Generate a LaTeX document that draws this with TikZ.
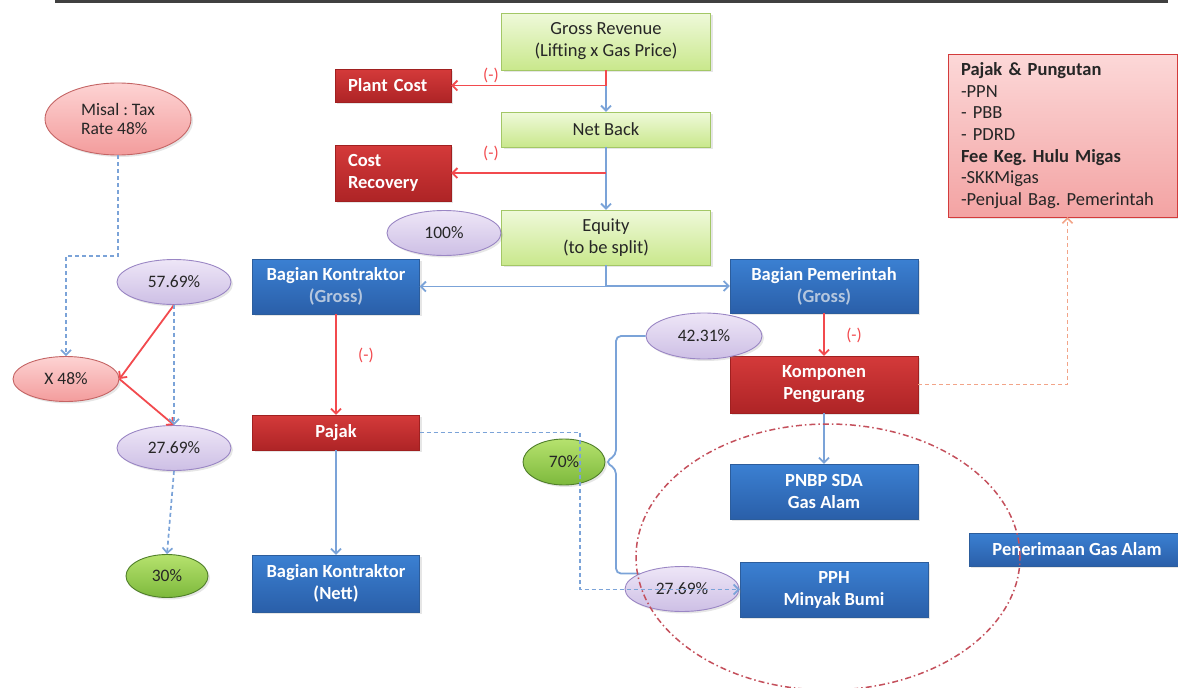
\documentclass[tikz,border=0pt]{standalone}
\usepackage{fontspec}
\setmainfont{Carlito}
\usetikzlibrary{arrows,arrows.meta}
\usetikzlibrary{calc}
\usetikzlibrary{shapes.geometric}
\usetikzlibrary{shadows}

\definecolor{lnblue}{HTML}{7BA3D8}
\definecolor{lnred}{HTML}{F24A4E}
\definecolor{lnorange}{HTML}{F2A488}
\definecolor{ringred}{HTML}{C4505C}
\definecolor{txtdark}{HTML}{262626}
\definecolor{grntop}{HTML}{EFF9DA}
\definecolor{grnbot}{HTML}{C9E88C}
\definecolor{grnedge}{HTML}{A3C766}
\definecolor{blutop}{HTML}{3B80D2}
\definecolor{blubot}{HTML}{2A5FA9}
\definecolor{bluedge}{HTML}{2C5D9C}
\definecolor{redtop}{HTML}{D43A3A}
\definecolor{redbot}{HTML}{AE2426}
\definecolor{rededge}{HTML}{A02020}
\definecolor{purtop}{HTML}{EEE6F7}
\definecolor{purbot}{HTML}{CDBFE5}
\definecolor{puredge}{HTML}{9A86C4}
\definecolor{pnktop}{HTML}{FDD3D3}
\definecolor{pnkbot}{HTML}{F39C9C}
\definecolor{pnkedge}{HTML}{C46464}
\definecolor{lgrtop}{HTML}{B6E26E}
\definecolor{lgrbot}{HTML}{7DB93C}
\definecolor{lgredge}{HTML}{4F7E2A}
\definecolor{pajtop}{HTML}{FCD8D8}
\definecolor{pajbot}{HTML}{F3A3A3}
\definecolor{pajedge}{HTML}{D33B3B}
\definecolor{grosslbl}{HTML}{B4C6DE}

\begin{document}
\frenchspacing
\begin{tikzpicture}[x=1pt,y=-1pt,font=\fontsize{18.5}{22}\selectfont,
  >={Straight Barb[length=5pt,width=10pt]},
  shade/.style={drop shadow={opacity=0.2,shadow xshift=2pt,shadow yshift=-2pt}},
  greenbox/.style={shade,draw=grnedge,top color=grntop,bottom color=grnbot,text=txtdark,
    minimum width=209,align=center,inner sep=2},
  bluebox/.style={shade,draw=bluedge,top color=blutop,bottom color=blubot,text=white,
    font=\fontsize{18.5}{22}\selectfont\bfseries,align=center,inner sep=2},
  redbox/.style={shade,draw=rededge,top color=redtop,bottom color=redbot,text=white,
    font=\fontsize{18.5}{22}\selectfont\bfseries,align=center,inner sep=2},
  oval/.style={shade,ellipse,inner sep=0,line width=0.9pt,text=txtdark,font=\fontsize{17.5}{19}\selectfont},
  purple/.style={oval,draw=puredge,top color=purtop,bottom color=purbot,
    minimum width=114,minimum height=45},
  pink/.style={oval,draw=pnkedge,top color=pnktop,bottom color=pnkbot},
  lime/.style={oval,draw=lgredge,top color=lgrtop,bottom color=lgrbot},
  blueln/.style={draw=lnblue,line width=1.8pt},
  redln/.style={draw=lnred,line width=1.8pt},
  bluedash/.style={draw=lnblue,line width=1.7pt,dash pattern=on 4pt off 3pt},
  minus/.style={text=lnred,font=\fontsize{17}{19}\selectfont}]

\useasboundingbox (0,0) rectangle (1178,688);
\draw[line width=3pt,black!75] (55,1.5) -- (1168,1.5);

\node[greenbox,minimum height=57] (gross) at (606,41.5) {Gross Revenue\\(Lifting  x Gas Price)};
\node[greenbox,minimum height=35] (netback) at (606,129.5) {Net Back};
\node[greenbox,minimum height=55] (equity) at (606,237.5) {Equity\\(to be split)};
\node[redbox,minimum height=33,text width=90,align=left,inner xsep=13] (plant) at (393,85.5) {Plant Cost};
\node[redbox,minimum height=56,text width=90,align=left,inner xsep=13] (costrec) at (393,173) {Cost\\Recovery};
\node[purple] (p100) at (444,233) {100\%};

\node[bluebox,minimum width=167,minimum height=55] (bkg) at (336,286.5) {Bagian Kontraktor\\\textcolor{grosslbl}{(Gross)}};
\node[bluebox,minimum width=188,minimum height=54] (bpg) at (824,286) {Bagian Pemerintah\\\textcolor{grosslbl}{(Gross)}};
\node[redbox,minimum width=167,minimum height=35] (pajak) at (336,432.5) {Pajak};
\node[bluebox,minimum width=167,minimum height=57] (bkn) at (336,583.5) {Bagian Kontraktor\\(Nett)};
\node[redbox,minimum width=188,minimum height=57] (komp) at (824,384.5) {Komponen\\Pengurang};
\node[bluebox,minimum width=188,minimum height=55] (pnbp) at (824,491.5) {PNBP SDA\\Gas Alam};
\node[bluebox,minimum width=188,minimum height=55] (pph) at (834,589.5) {PPH\\Minyak Bumi};
\node[bluebox,minimum width=216,minimum height=33] (gasalam) at (1077,549.5) {Penerimaan Gas Alam};

\node[shade,draw=pajedge,top color=pajtop,bottom color=pajbot,text=txtdark,
  font=\fontsize{18.5}{21.7}\selectfont,align=left,text width=203,inner xsep=13,
  minimum height=163] (pungutan) at (1062.5,135.5)
  {\textbf{Pajak \& Pungutan}\\-PPN\\- PBB\\- PDRD\\\textbf{Fee Keg. Hulu Migas}\\-SKKMigas\\-Penjual Bag. Pemerintah};

\node[pink,minimum width=146,minimum height=72,align=left] (misal) at (118,119) {Misal : Tax\\Rate 48\%};
\node[purple] (p5769) at (174,282) {57.69\%};
\node[pink,minimum width=106,minimum height=45] (x48) at (66,379) {X 48\%};
\node[purple] (p2769a) at (174,448) {27.69\%};
\node[lime,minimum width=82,minimum height=43] (p30) at (167,576) {30\%};
\node[purple,minimum width=116,minimum height=46] (p4231) at (704,336) {42.31\%};
\node[lime,minimum width=82,minimum height=46] (p70) at (564,462) {70\%};
\node[purple] (p2769b) at (682,589) {27.69\%};

\draw[->,blueln] (gross) -- (netback);
\draw[->,blueln] (netback) -- (equity);
\draw[->,redln] (gross.south) |- (plant.east);
\draw[->,redln] (netback.south |- costrec.east) -- (costrec.east);
\node[minus] (mplant) at (491,75) {(-)};
\node[minus] (mcost) at (491,153) {(-)};
\draw[->,blueln] (equity.south) |- (bkg.east);
\draw[->,blueln] (equity.south) |- (bpg.west);

\draw[->,redln] (bkg) -- (pajak);
\node[minus] (mpajak) at (366,355) {(-)};
\draw[->,blueln] (pajak) -- (bkn);
\draw[->,redln] (bpg) -- (komp);
\node[minus] (mkomp) at (854,335) {(-)};
\draw[->,blueln] (komp) -- (pnbp);

\draw[->,bluedash] (pajak.east) -| (580,589.5) -- (pph.west);
\draw[->,draw=lnorange,line width=1.5pt,dash pattern=on 4pt off 3pt] (komp.east) -| ([xshift=5]pungutan.south);
\draw[blueln,rounded corners=5] (p4231.west) -| (616,455) -- (p70.east) -- (616,469) |- (p2769b.160);

\draw[->,bluedash] (misal.south) |- (66,256) -- (x48.north);
\draw[->,redln] (p5769.south) -- (x48.east);
\draw[->,redln] (x48.east) -- (p2769a.north);
\draw[->,bluedash] (p5769.south) -- (p2769a.north);
\draw[->,bluedash] (p2769a.south) -- (p30.north);

\node[ellipse,draw=ringred,line width=1.5pt,dash pattern=on 6pt off 3pt on 1.5pt off 3pt,
  minimum width=384,minimum height=266] (ring) at (828,557) {};
\end{tikzpicture}
\end{document}
